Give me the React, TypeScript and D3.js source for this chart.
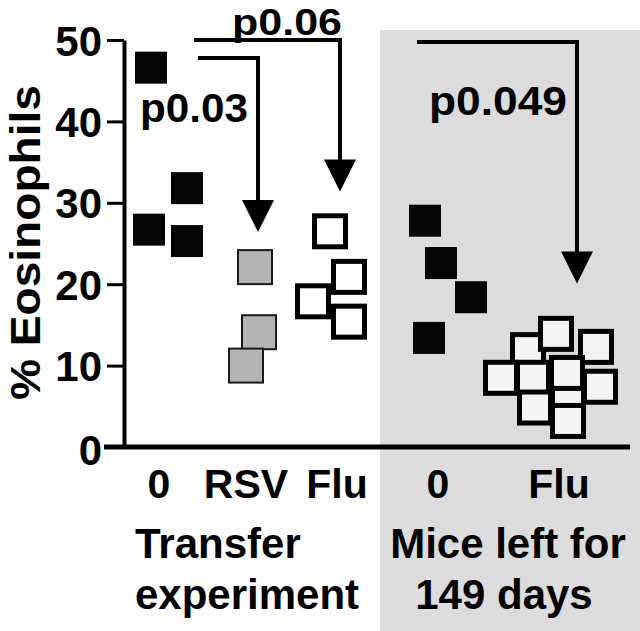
import React, { useEffect, useRef } from "react";
import * as d3 from "d3";

// categories on the x axis (left panel: transfer experiment, right panel: mice left 149 days)
const categories = ["T0", "TRSV", "TFlu", "M0", "MFlu"];
const categoryLabels = ["0", "RSV", "Flu", "0", "Flu"];
const categoryKind = ["black", "grey", "open", "black", "openLight"];

// % eosinophils per mouse, with small horizontal jitter (px) as in the scatter
const t0Values = [46.6, 26.7, 31.8, 25.3];
const t0Jitter = [-8, -10, 28, 28];
const rsvValues = [22.1, 14.1, 10.0];
const rsvJitter = [9, 13, 0];
const tFluValues = [26.5, 20.9, 17.9, 15.4];
const tFluJitter = [-7, 12, -24, 12];
const m0Values = [27.8, 22.6, 18.4, 13.4];
const m0Jitter = [-13, 3, 33, -9];
const mFluValues = [11.9, 13.9, 12.3, 8.5, 5.7, 9.1, 7.4, 8.5, 4.85, 3.2];
const mFluJitter = [-31, -3, 37, -26, 9, 8, 41, -58, -24, 9];

const yTicks = [0, 10, 20, 30, 40, 50];

// significance brackets
const brackets = [
  { label: "p0.06", from: "T0", fromDx: 37, to: "TFlu", toDx: 3, level: 50, tip: 31.4, labelDx: 73, labelAt: 50.6, len: 110, fs: 37 },
  { label: "p0.03", from: "T0", fromDx: 41, to: "TRSV", toDx: 12, level: 47.8, tip: 26.4, labelDx: -19, labelAt: 39.9, len: 108, fs: 41 },
  { label: "p0.049", from: "M0", fromDx: -19, to: "MFlu", toDx: 18, level: 49.75, tip: 20.1, labelDx: -9, labelAt: 40.8, len: 138, fs: 41 },
];

const FONT = "'Liberation Sans', Arial, Helvetica, sans-serif";

export default function App() {
  const svgRef = useRef<SVGSVGElement>(null);

  useEffect(() => {
    const width = 640, height = 631;
    const svg = d3.select(svgRef.current)
      .attr("width", width)
      .attr("height", height)
      .style("background", "#fff");
    svg.selectAll("*").remove();

    const y = d3.scaleLinear().domain([0, 50]).range([447, 40]);
    const x = d3.scaleOrdinal<string, number>()
      .domain(categories)
      .range([159, 246, 337, 438, 559]);

    // grey panel behind the "mice left" groups
    svg.append("rect")
      .attr("x", 380).attr("y", 30)
      .attr("width", width - 380).attr("height", height - 30)
      .attr("fill", "#dcdcdc");

    // y axis
    const yAxis = svg.append("g")
      .attr("transform", "translate(124,0)")
      .call(d3.axisLeft(y).tickValues(yTicks).tickSize(17).tickSizeOuter(0).tickPadding(5));
    yAxis
      .attr("font-size", 42)
      .attr("font-family", FONT)
      .attr("font-weight", "bold");
    yAxis.select(".domain").attr("stroke", "#000").attr("stroke-width", 4);
    yAxis.selectAll(".tick line").attr("stroke", "#000").attr("stroke-width", 3);
    yAxis.selectAll(".tick text")
      .attr("fill", "#000")
      .attr("dy", (d: any) => (d === 0 ? "0.42em" : "0.36em"));

    // x axis baseline
    svg.append("line")
      .attr("x1", 104).attr("x2", 630)
      .attr("y1", y(0)).attr("y2", y(0))
      .attr("stroke", "#000").attr("stroke-width", 5);

    // y axis title
    svg.append("text")
      .attr("transform", `translate(40,${(85 + 400) / 2}) rotate(-90)`)
      .attr("text-anchor", "middle")
      .style("font-family", FONT)
      .style("font-weight", "bold")
      .style("font-size", "43px")
      .attr("textLength", 315)
      .attr("lengthAdjust", "spacingAndGlyphs")
      .text("% Eosinophils");

    // category labels
    svg.selectAll("text.cat")
      .data(categories)
      .enter()
      .append("text")
      .attr("class", "cat")
      .attr("x", d => x(d))
      .attr("y", 498)
      .attr("text-anchor", "middle")
      .style("font-family", FONT)
      .style("font-weight", "bold")
      .style("font-size", "41px")
      .text((d, i) => categoryLabels[i]);

    // group titles
    const title = (t: string, xx: number, yy: number, anchor: string) =>
      svg.append("text")
        .attr("x", xx).attr("y", yy)
        .attr("text-anchor", anchor)
        .style("font-family", FONT)
        .style("font-weight", "bold")
        .style("font-size", "42px")
        .text(t);
    title("Transfer", 135, 558, "start");
    title("experiment", 135, 609, "start");
    title("Mice left for", 508, 558, "middle");
    title("149 days", 504, 609, "middle");

    // points
    const groups = [
      { key: "T0", values: t0Values, jitter: t0Jitter },
      { key: "TRSV", values: rsvValues, jitter: rsvJitter },
      { key: "TFlu", values: tFluValues, jitter: tFluJitter },
      { key: "M0", values: m0Values, jitter: m0Jitter },
      { key: "MFlu", values: mFluValues, jitter: mFluJitter },
    ];
    const pts = groups.flatMap((g, gi) =>
      g.values.map((v, i) => ({ key: g.key, kind: categoryKind[gi], value: v, dx: g.jitter[i] })));

    const style: Record<string, { size: number; fill: string; stroke: string; sw: number }> = {
      black: { size: 32, fill: "#050505", stroke: "none", sw: 0 },
      grey: { size: 34, fill: "#b4b4b4", stroke: "#1a1a1a", sw: 2 },
      open: { size: 31, fill: "#ffffff", stroke: "#000", sw: 5 },
      openLight: { size: 31, fill: "#f4f4f4", stroke: "#000", sw: 5 },
    };

    svg.selectAll("rect.pt")
      .data(pts)
      .enter()
      .append("rect")
      .attr("class", "pt")
      .attr("x", d => x(d.key) + d.dx - style[d.kind].size / 2)
      .attr("y", d => y(d.value) - style[d.kind].size / 2)
      .attr("width", d => style[d.kind].size)
      .attr("height", d => style[d.kind].size)
      .attr("fill", d => style[d.kind].fill)
      .attr("stroke", d => style[d.kind].stroke)
      .attr("stroke-width", d => style[d.kind].sw);

    // brackets with arrows
    brackets.forEach(b => {
      const x0 = x(b.from) + b.fromDx;
      const x1 = x(b.to) + b.toDx;
      const yl = y(b.level);
      const yt = y(b.tip);
      svg.append("path")
        .attr("d", d3.line()([[x0, yl], [x1, yl], [x1, yt - 28]]) as string)
        .attr("fill", "none")
        .attr("stroke", "#000")
        .attr("stroke-width", 4)
        .attr("stroke-linecap", "square");
      svg.append("path")
        .attr("d", d3.line()([[x1 - 16, yt - 32], [x1 + 16, yt - 32], [x1, yt]]) + "Z")
        .attr("fill", "#000");
      svg.append("text")
        .attr("x", x(b.from) + b.labelDx)
        .attr("y", y(b.labelAt))
        .style("font-family", FONT)
        .style("font-weight", "bold")
        .style("font-size", `${b.fs}px`)
        .attr("textLength", b.len)
        .attr("lengthAdjust", "spacingAndGlyphs")
        .text(b.label);
    });
  }, []);

  return (
    <div style={{ position: "absolute", left: 0, top: 0 }}>
      <svg ref={svgRef} style={{ display: "block" }}></svg>
    </div>
  );
}
